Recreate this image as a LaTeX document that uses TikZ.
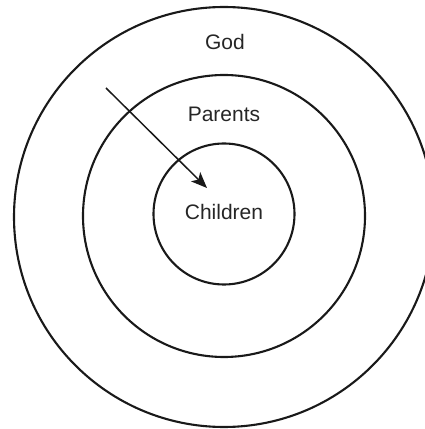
\documentclass[tikz,border=0pt]{standalone}
\usepackage{fontspec}
\setmainfont{Liberation Sans}
\usetikzlibrary{arrows.meta}
\begin{document}
\begin{tikzpicture}[x=1pt,y=1pt,
  ring/.style={circle,draw=black!90,line width=2.1pt,inner sep=0pt},
  lbl/.style={font=\fontsize{21}{25}\selectfont,text=black!85,inner sep=0pt}]
\useasboundingbox (0,0) rectangle (425,429);
\node[ring,minimum size=420pt] (god) at (224,212) {};
\node[ring,minimum size=282pt] (parents) at (224,213) {};
\node[ring,minimum size=141pt] (children) at (224,215) {};
\node[lbl] (tgod) at (225,387) {God};
\node[lbl] (tpar) at (224,315) {Parents};
\node[lbl] (tchi) at (224,217) {Children};
\coordinate (start) at (106,341);
\coordinate (tip) at (207,241);
\draw[line width=1.5pt,draw=black!90,-{Stealth[length=16pt,width=13pt,inset=4pt]}] (start) -- (tip);
\end{tikzpicture}
\end{document}
